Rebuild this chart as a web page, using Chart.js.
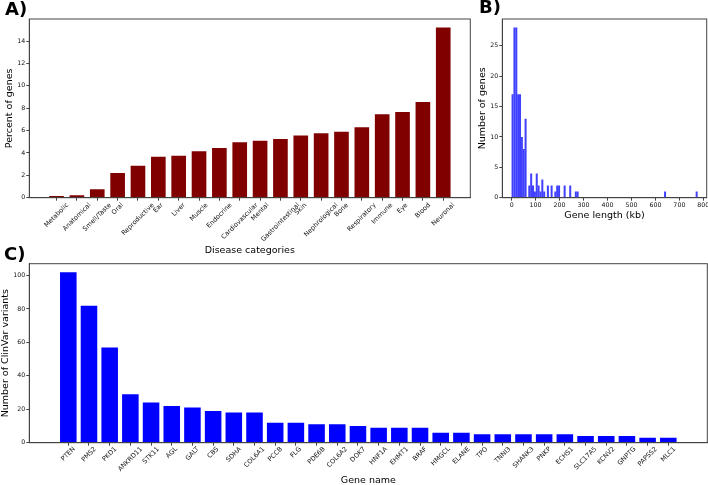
<!DOCTYPE html>
<html lang="en">
<head>
<meta charset="UTF-8">
<title>Disease genes overview</title>
<script src="https://cdn.jsdelivr.net/npm/chart.js"></script>
<style>
  html, body { margin:0; padding:0; background:#fff; overflow:hidden; width:708px; height:485px; }
  .wrap { position:absolute; }
  .wrap canvas { display:block; }
  .tag { position:absolute; font-family:"DejaVu Sans", sans-serif; font-weight:bold; font-size:18px; line-height:18px; color:#000; }
</style>
</head>
<body>
<div class="wrap" style="left:0;top:0"><canvas id="chartA" width="480" height="262"></canvas></div>
<div class="wrap" style="left:470px;top:0"><canvas id="chartB" width="250" height="262"></canvas></div>
<div class="wrap" style="left:0;top:240px"><canvas id="chartC" width="708" height="245"></canvas></div>
<div class="tag" style="left:5px;top:0">A)</div>
<div class="tag" style="left:479px;top:-2px">B)</div>
<div class="tag" style="left:4px;top:245px">C)</div>

<script>
// A) share of genes per disease category
const categories = ['Metabolic','Anatomical','Smell/Taste','Oral','Reproductive','Ear','Liver','Muscle','Endocrine',
  'Cardiovascular','Mental','Gastrointestinal','Skin','Nephrological','Bone','Respiratory','Immune','Eye','Blood','Neuronal'];
const percentGenes = [0.15,0.22,0.75,2.2,2.85,3.65,3.75,4.15,4.45,4.95,5.1,5.25,5.55,5.75,5.9,6.3,7.45,7.65,8.55,15.2];
const percentTicks = [0,2,4,6,8,10,12,14];

// B) gene length histogram, 100 bins from 0 to 776 kb
const binStart = 0;
const binWidth = 7.76;
const lengthCounts = [
  17,28,28,17,17,10,8,13,0,2, 4,2,1,4,2,1,3,1,0,2,
  0,2,0,1,2,2,0,0,2,0, 0,2,0,0,1,1,0,0,0,0,
  0,0,0,0,0,0,0,0,0,0, 0,0,0,0,0,0,0,0,0,0,
  0,0,0,0,0,0,0,0,0,0, 0,0,0,0,0,0,0,0,0,0,
  0,0,1,0,0,0,0,0,0,0, 0,0,0,0,0,0,0,0,0,1
];
const lengthTicks = [0,100,200,300,400,500,600,700,800];
const countTicks = [0,5,10,15,20,25];

// C) ClinVar variants per gene
const genes = ['PTEN','PMS2','PKD1','ANKRD11','STK11','AGL','GALT','CBS','SDHA','COL6A1','PCCB','FLG','PDE6B','COL6A2','DOK7',
  'HNF1A','EHMT1','BRAF','HMGCL','ELANE','TPO','TNNI3','SHANK3','PNKP','ECHS1','SLC17A5','KCNV2','GNPTG','PAPSS2','MLC1'];
const variants = [102,82,57,29,24,22,21,19,18,18,12,12,11,11,10,9,9,9,6,6,5,5,5,5,5,4,4,4,3,3];
const variantTicks = [0,20,40,60,80,100];

const FONT = 'DejaVu Sans';
const AXIS = '#444';

// frame round the plot + matplotlib style rotated labels (centered on the tick)
const framePlugin = {
  id: 'frame',
  afterDraw(chart, args, opts) {
    const {ctx, chartArea: a} = chart;
    ctx.save();
    ctx.strokeStyle = AXIS;
    ctx.lineWidth = 1;
    ctx.strokeRect(a.left, a.top, a.right - a.left, a.bottom - a.top);
    if (opts.labels) {
      const xs = chart.scales.x;
      ctx.font = opts.size + 'px "' + FONT + '"';
      ctx.fillStyle = '#111';
      ctx.textAlign = 'center';
      ctx.textBaseline = 'middle';
      const h = opts.size * 1.05;
      opts.labels.forEach((t, i) => {
        const w = ctx.measureText(t).width;
        const side = (w + h) * Math.SQRT1_2;
        const x = xs.getPixelForValue(i);
        const y = xs.top + opts.offset + side / 2;
        ctx.save();
        ctx.translate(x, y);
        ctx.rotate(-Math.PI / 4);
        ctx.fillText(t, 0, 0);
        ctx.restore();
      });
    }
    ctx.restore();
  }
};

function yAxis(tickVals, max, width, title, titlePad) {
  return {
    type: 'linear', min: 0, max: max,
    afterBuildTicks: s => { s.ticks = tickVals.map(v => ({value: v})); },
    afterFit: s => { s.width = width; },
    grid: {drawOnChartArea: false, drawTicks: true, tickLength: 3, color: AXIS},
    border: {display: true, color: AXIS},
    ticks: {font: {family: FONT, size: 6.3}, color: '#111', padding: 1},
    title: {display: true, text: title, font: {family: FONT, size: 9.5}, color: '#000', padding: {top: titlePad, bottom: 0}}
  };
}

function xAxis(min, max, height, tickVals, showLabels, title, titlePad) {
  return {
    type: 'linear', min: min, max: max, offset: false,
    afterBuildTicks: s => { s.ticks = tickVals.map(v => ({value: v})); },
    afterFit: s => { s.height = height; },
    grid: {drawOnChartArea: false, drawTicks: true, tickLength: 3, color: AXIS, offset: false},
    border: {display: true, color: AXIS},
    ticks: {display: showLabels, font: {family: FONT, size: 6.3}, color: '#111', padding: 1, maxRotation: 0, autoSkip: false},
    title: {display: true, text: title, font: {family: FONT, size: 9.5}, color: '#000', padding: {top: 0, bottom: titlePad}}
  };
}

const common = {
  responsive: false,
  animation: false,
  events: [],
  plugins: {legend: {display: false}, tooltip: {enabled: false}}
};

new Chart('chartA', {
  type: 'bar',
  data: {
    datasets: [{
      data: categories.map((c, i) => ({x: i, y: percentGenes[i]})),
      backgroundColor: '#800000',
      barPercentage: 0.72, categoryPercentage: 1
    }]
  },
  options: {
    ...common,
    layout: {padding: {top: 19, right: 9.7, left: 0, bottom: 0}},
    scales: {
      x: xAxis(-1.34, 20.33, 64.3, categories.map((c, i) => i), false, 'Disease categories', 5.3),
      y: yAxis(percentTicks, 15.97, 29.3, 'Percent of genes', 4.3)
    },
    plugins: {...common.plugins, frame: {labels: categories, size: 6.5, offset: 4}}
  },
  plugins: [framePlugin]
});

new Chart('chartB', {
  type: 'bar',
  data: {
    datasets: [{
      data: lengthCounts.map((n, i) => ({x: binStart + binWidth * (i + 0.5), y: n})),
      backgroundColor: '#4040ff',
      barPercentage: 1.08, categoryPercentage: 1
    }]
  },
  options: {
    ...common,
    layout: {padding: {top: 19, right: 13.3, left: 0, bottom: 0}},
    scales: {
      x: xAxis(-39, 814, 64.3, lengthTicks, true, 'Gene length (kb)', 40.3),
      y: yAxis(countTicks, 29.4, 32.3, 'Number of genes', 6.8)
    },
    plugins: {...common.plugins, frame: {}}
  },
  plugins: [framePlugin]
});

new Chart('chartC', {
  type: 'bar',
  data: {
    datasets: [{
      data: genes.map((g, i) => ({x: i, y: variants[i]})),
      backgroundColor: '#0000ff',
      barPercentage: 0.8, categoryPercentage: 1
    }]
  },
  options: {
    ...common,
    layout: {padding: {top: 23.7, right: 0.7, left: 0, bottom: 0}},
    scales: {
      x: xAxis(-1.885, 30.885, 42.3, genes.map((g, i) => i), false, 'Gene name', -1),
      y: yAxis(variantTicks, 107.1, 29.3, 'Number of ClinVar variants', 0)
    },
    plugins: {...common.plugins, frame: {labels: genes, size: 6.5, offset: 3}}
  },
  plugins: [framePlugin]
});
</script>
</body>
</html>
